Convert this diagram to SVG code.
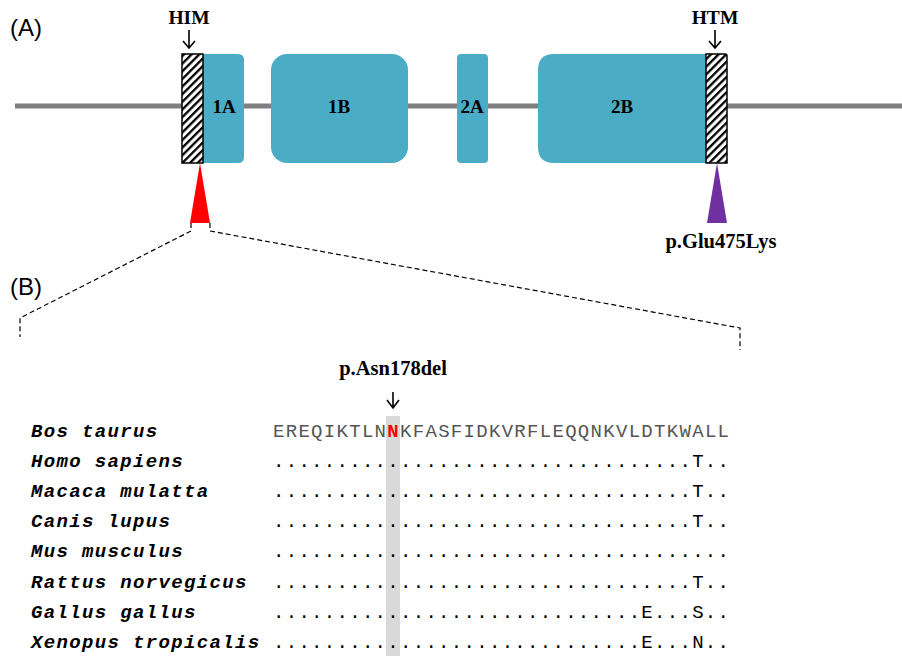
<svg xmlns="http://www.w3.org/2000/svg" width="902" height="656" viewBox="0 0 902 656">
<defs>
<pattern id="hatch" patternUnits="userSpaceOnUse" width="5.4" height="5.4" patternTransform="rotate(45)">
<rect x="0" y="0" width="5.4" height="5.4" fill="#fff"/>
<rect x="0" y="0" width="2.3" height="5.4" fill="#000"/>
</pattern>
<style>
.dom{fill:#4BACC6}
.hat{fill:url(#hatch);stroke:#000;stroke-width:1.5}
.lbl{font-family:"Liberation Serif",serif;font-weight:bold;fill:#000;text-anchor:middle}
.panel{font-family:"Liberation Sans",Arial,sans-serif;font-size:24px;fill:#000}
.arr{fill:none;stroke:#000;stroke-width:1.6}
.dash{fill:none;stroke:#000;stroke-width:1.2;stroke-dasharray:5 3}
.sp{font-family:"Liberation Mono",monospace;font-weight:bold;font-style:italic;font-size:19px;letter-spacing:1.35px;fill:#000}
.seq{font-family:"Liberation Mono",monospace;font-size:19px;letter-spacing:1.3px;fill:#555}
.dot{font-family:"Liberation Mono",monospace;font-size:19px;letter-spacing:1.3px;fill:#000}
</style>
</defs>
<rect width="902" height="656" fill="#fff"/>
<text class="panel" x="10" y="36">(A)</text>
<text class="panel" x="10" y="295">(B)</text>
<line x1="15" y1="106" x2="902" y2="106" stroke="#808080" stroke-width="5"/>
<g id="d1A"><path class="dom" d="M198,54 H238 Q244,54 244,60 V157 Q244,163 238,163 H198 Z"/><text class="lbl" x="224" y="113" font-size="19">1A</text></g>
<g id="d1B"><rect class="dom" x="271" y="54" width="137" height="109" rx="16"/><text class="lbl" x="339" y="113" font-size="19">1B</text></g>
<g id="d2A"><rect class="dom" x="457" y="54" width="31" height="109" rx="4"/><text class="lbl" x="472" y="113" font-size="19">2A</text></g>
<g id="d2B"><path class="dom" d="M554,54 H710 V163 H554 Q538,163 538,147 V70 Q538,54 554,54 Z"/><text class="lbl" x="622" y="113" font-size="19">2B</text></g>
<g id="HIM"><rect class="hat" x="182" y="54" width="21" height="109"/><text class="lbl" x="189" y="24" font-size="19.5">HIM</text><path class="arr" d="M189,30 V48 M183,41 L189,48 L195,41"/></g>
<g id="HTM"><path class="hat" d="M706,54 H725 Q727,54 727,56 V163 H706 Z"/><text class="lbl" x="715" y="24" font-size="19.5">HTM</text><path class="arr" d="M715,30 V48 M709,41 L715,48 L721,41"/></g>
<g id="mutRed"><polygon points="200,163 190,223 210,223" fill="#ff0000"/></g>
<g id="mutPurple"><polygon points="717,163 707,223 727,223" fill="#7030A0"/><text class="lbl" x="721" y="248" font-size="20.5">p.Glu475Lys</text></g>
<g id="connectors">
<path class="dash" d="M191,223 V231 L20,318 V337"/>
<path class="dash" d="M210,223 V231 L740,328 V350"/>
</g>
<g id="alignment">
<rect x="386" y="416" width="14" height="240" fill="#d9d9d9"/>
<text class="lbl" x="393" y="375" font-size="20.5">p.Asn178del</text>
<path class="arr" d="M393,392 V408 M387,400 L393,408 L399,400"/>
<text class="sp" x="31" y="437">Bos taurus</text>
<text class="sp" x="31" y="467">Homo sapiens</text>
<text class="sp" x="31" y="497">Macaca mulatta</text>
<text class="sp" x="31" y="527">Canis lupus</text>
<text class="sp" x="31" y="557">Mus musculus</text>
<text class="sp" x="31" y="588">Rattus norvegicus</text>
<text class="sp" x="31" y="618">Gallus gallus</text>
<text class="sp" x="31" y="648">Xenopus tropicalis</text>
<text class="seq" x="273" y="437">EREQIKTLN<tspan fill="#ff0000" font-weight="bold">N</tspan>KFASFIDKVRFLEQQNKVLDTKWALL</text>
<text class="dot" x="273" y="467">.................................T..</text>
<text class="dot" x="273" y="497">.................................T..</text>
<text class="dot" x="273" y="527">.................................T..</text>
<text class="dot" x="273" y="557">....................................</text>
<text class="dot" x="273" y="588">.................................T..</text>
<text class="dot" x="273" y="618">.............................E...S..</text>
<text class="dot" x="273" y="648">.............................E...N..</text>
</g>
</svg>
